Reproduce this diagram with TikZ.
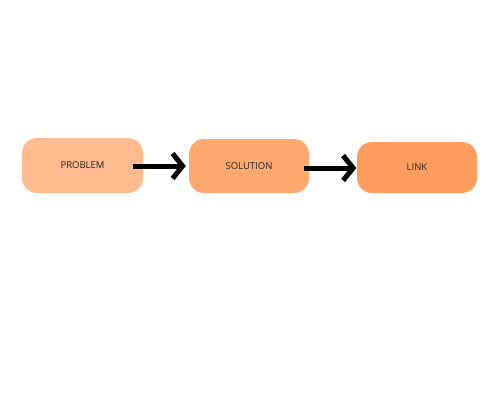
\documentclass[tikz,border=0pt]{standalone}
\usepackage{fontspec}
\setmainfont{Open Sans}
\usetikzlibrary{arrows.meta}
\definecolor{cA}{HTML}{FFBB8F}
\definecolor{cB}{HTML}{FFA870}
\definecolor{cC}{HTML}{FF9D5E}
\definecolor{txt}{HTML}{222222}
\begin{document}
\begin{tikzpicture}[x=1pt,y=-1pt,
  box/.style={rounded corners=15pt,minimum width=121pt,minimum height=55pt,inner sep=0pt,text=txt,font=\fontsize{9.5}{11}\selectfont},
  conn/.style={line width=5pt,-{Straight Barb[length=10pt,width=25pt,line width=5pt]}}]
\useasboundingbox (0,0) rectangle (500,400);
\node[box,fill=cA] (p) at (82.5,165.5) {PROBLEM};
\node[box,fill=cB,minimum width=120pt,minimum height=54pt] (s) at (249,166) {SOLUTION};
\node[box,fill=cC,minimum width=120pt,minimum height=51pt] (l) at (417,167.5) {LINK};
\coordinate (a1) at ([xshift=-10pt,yshift=-0.5pt]p.east);
\coordinate (a2) at ([xshift=-5pt,yshift=-2pt]s.east);
\draw[conn,shorten >=3pt] (a1) -- (a1 -| s.west);
\draw[conn,shorten >=0.5pt] (a2) -- (a2 -| l.west);
\end{tikzpicture}
\end{document}
